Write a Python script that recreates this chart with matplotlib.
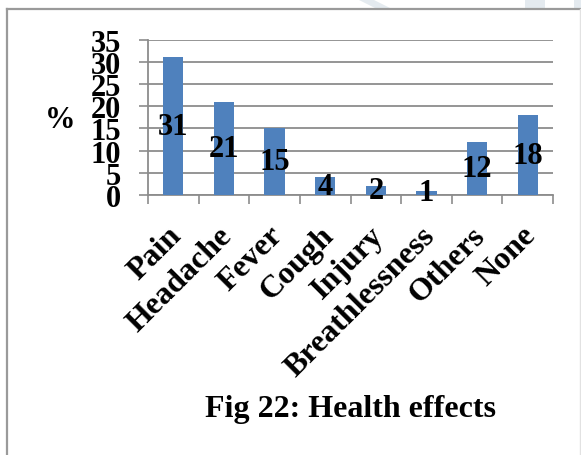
import matplotlib
matplotlib.use("Agg")
import matplotlib.pyplot as plt
from matplotlib.patches import Polygon
from matplotlib.lines import Line2D
import numpy as np

categories = ["Pain", "Headache", "Fever", "Cough", "Injury",
              "Breathlessness", "Others", "None"]
percent = [31, 21, 15, 4, 2, 1, 12, 18]
y_ticks = [0, 5, 10, 15, 20, 25, 30, 35]
title = "Fig 22: Health effects"
y_label = "%"

BAR = "#4F81BD"
GRID = "#8C8C8C"
FONT = "Liberation Serif"

W, H = 581, 456
fig = plt.figure(figsize=(W / 100, H / 100), dpi=100)
fig.patch.set_facecolor("white")


def fx(px):
    return px / W


def fy(py):
    return 1 - py / H


# faint watermark strokes along the top edge
for pts in ([(357, 0), (372, 0), (392, 10), (377, 10)],
            [(525, 0), (545, 0), (545, 10), (525, 10)],
            [(574, 0), (581, 0), (581, 10), (574, 10)]):
    fig.patches.append(Polygon([(fx(a), fy(b)) for a, b in pts],
                               closed=True, transform=fig.transFigure,
                               facecolor="#E4EAEF", edgecolor="none",
                               zorder=0))

# chart frame
fig.lines.append(Line2D([fx(7), fx(7)], [fy(10), fy(460)],
                        transform=fig.transFigure, color="#9A9A9A", lw=1.6))
fig.lines.append(Line2D([fx(7), fx(580)], [fy(10), fy(10)],
                        transform=fig.transFigure, color="#9A9A9A", lw=1.6))
fig.lines.append(Line2D([fx(580), fx(580)], [fy(10), fy(460)],
                        transform=fig.transFigure, color="#E2E2E2", lw=1.0))

ax = fig.add_axes([fx(148), fy(196), (553 - 148) / W, (196 - 40.7) / H])
ax.set_facecolor("none")

x = np.arange(len(categories))
bars = ax.bar(x, percent, width=0.4, color=BAR, zorder=3)

ax.set_xlim(-0.5, len(categories) - 0.5)
ax.set_ylim(0, 35)
ax.set_yticks(y_ticks)
ax.set_yticklabels([str(v) for v in y_ticks], fontfamily=FONT,
                   fontweight="bold", fontsize=22)
ax.yaxis.grid(True, color=GRID, linewidth=1.3, zorder=0)
ax.tick_params(axis="y", length=6.5, width=1.2, color=GRID, pad=13,
               direction="out")

# category boundary ticks
ax.set_xticks(np.arange(len(categories) + 1) - 0.5)
ax.set_xticklabels([])
ax.tick_params(axis="x", length=6.5, width=1.2, color=GRID, direction="out")

for side in ("top", "right"):
    ax.spines[side].set_visible(False)
for side in ("left", "bottom"):
    ax.spines[side].set_color(GRID)
    ax.spines[side].set_linewidth(1.3)

# value labels centred in the bars
for b, v in zip(bars, percent):
    ax.text(b.get_x() + b.get_width() / 2, v / 2, str(v),
            ha="center", va="center", fontfamily=FONT, fontweight="bold",
            fontsize=22, zorder=4)

# rotated category labels
trans = ax.get_xaxis_transform()
for i, name in enumerate(categories):
    ax.text(i + 0.08, -0.23, name, transform=trans,
            rotation=45, rotation_mode="anchor", ha="right", va="center",
            fontfamily=FONT, fontweight="bold", fontsize=23, clip_on=False)

fig.text(fx(60), fy(121), y_label, ha="center", va="center",
         fontfamily=FONT, fontweight="bold", fontsize=22)

fig.text(fx(350), fy(410), title, ha="center", va="center",
         fontfamily=FONT, fontweight="bold", fontsize=23)

fig.savefig("out.png", dpi=100, facecolor="white")
